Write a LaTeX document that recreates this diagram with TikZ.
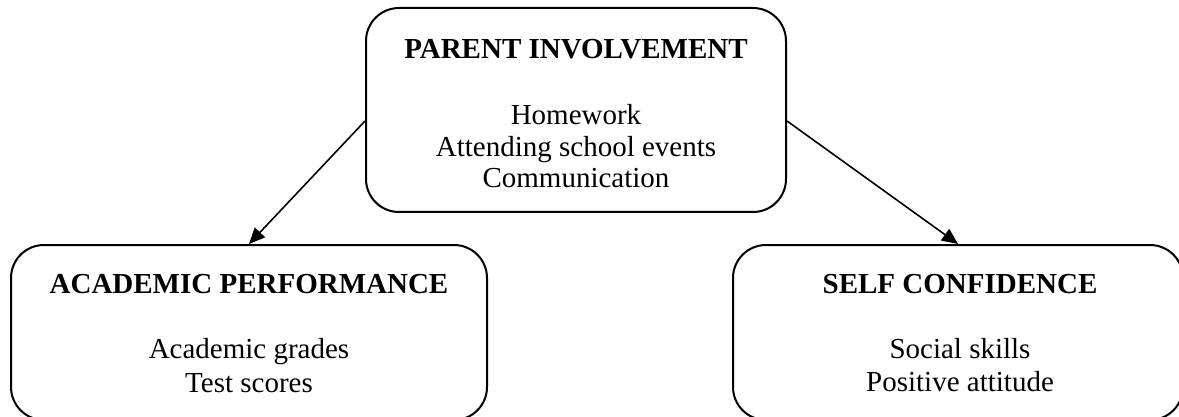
\documentclass[tikz,border=0pt]{standalone}
\usepackage{fontspec}
\setmainfont{Liberation Serif}
\usetikzlibrary{arrows.meta}
\begin{document}
\begin{tikzpicture}[x=1pt,y=-1pt,
  boxstyle/.style={draw,line width=2pt,rounded corners=33pt,inner sep=0pt},
  headstyle/.style={anchor=base,inner sep=0pt,font=\fontsize{29}{33}\selectfont\bfseries},
  itemstyle/.style={anchor=base,inner sep=0pt,font=\fontsize{29}{33}\selectfont},
  arrowstyle/.style={line width=1.6pt,-{Triangle[length=16pt,width=14pt]}}]
\useasboundingbox (0,0) rectangle (1179,417);
\node[boxstyle,minimum width=420pt,minimum height=204pt] (top) at (576,110) {};
\node[boxstyle,minimum width=476pt,minimum height=175pt] (left) at (249,332.5) {};
\node[boxstyle,minimum width=450pt,minimum height=175pt] (right) at (958,332.5) {};
\node[headstyle] (t0) at (576,59) {PARENT INVOLVEMENT};
\node[itemstyle] (t1) at (576,125) {Homework};
\node[itemstyle] (t2) at (576,157) {Attending school events};
\node[itemstyle] (t3) at (576,188) {Communication};
\node[headstyle] (l0) at (249,293) {ACADEMIC PERFORMANCE};
\node[itemstyle] (l1) at (249,358) {Academic grades};
\node[itemstyle] (l2) at (249,392) {Test scores};
\node[headstyle] (r0) at (960,293) {SELF CONFIDENCE};
\node[itemstyle] (r1) at (960,358) {Social skills};
\node[itemstyle] (r2) at (960,391) {Positive attitude};
\draw[arrowstyle] ([yshift=-11pt]top.west) -- (left.north);
\draw[arrowstyle] ([yshift=-11pt]top.east) -- (right.north);
\end{tikzpicture}
\end{document}
